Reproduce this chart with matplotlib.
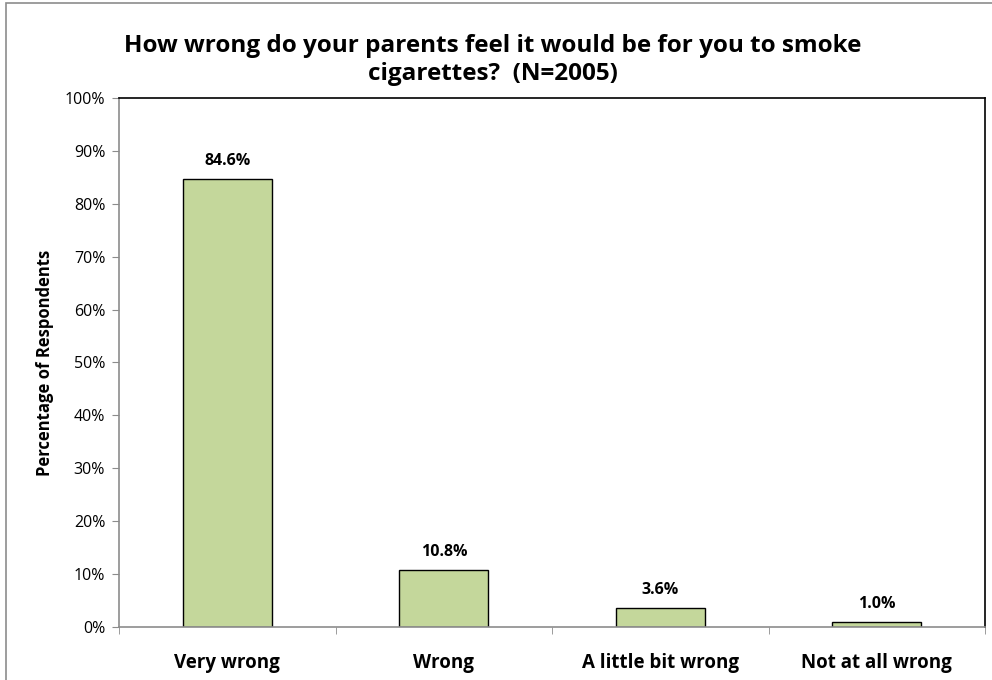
import matplotlib
matplotlib.use('Agg')
import matplotlib.pyplot as plt
from matplotlib.patches import Rectangle
from matplotlib.ticker import PercentFormatter

categories = ['Very wrong', 'Wrong', 'A little bit wrong', 'Not at all wrong']
values = [84.6, 10.8, 3.6, 1.0]
title = 'How wrong do your parents feel it would be for you to smoke\ncigarettes?  (N=2005)'

plt.rcParams['font.family'] = ['Open Sans', 'DejaVu Sans']

fig = plt.figure(figsize=(9.92, 6.8), dpi=100)
ax = fig.add_axes([0.120, 0.078, 0.873, 0.778])

# outer chart border
fig.patches.append(Rectangle((0.006, -0.01), 1.2, 1.0055, transform=fig.transFigure,
                             fill=False, edgecolor='#8c8c8c', linewidth=1.2))

x = range(len(categories))
bars = ax.bar(x, values, width=0.41, color='#c4d79b', edgecolor='black', linewidth=1)
for i, v in enumerate(values):
    ax.text(i, v + 1.9, f'{v:.1f}%', ha='center', va='bottom', fontsize=11.5, fontweight='bold')

ax.set_xlim(-0.5, len(categories) - 0.5)
ax.set_ylim(0, 100)
ax.set_yticks(range(0, 101, 10))
ax.yaxis.set_major_formatter(PercentFormatter(decimals=0))
ax.set_xticks(list(x))
ax.set_xticklabels(categories, fontsize=13.5, fontweight='bold')
ax.set_xticks([i + 0.5 for i in range(-1, len(categories))], minor=True)
ax.tick_params(axis='x', which='major', length=0, pad=19)
ax.tick_params(axis='x', which='minor', length=5, color='#8c8c8c', direction='out')
ax.tick_params(axis='y', length=5, color='#8c8c8c', labelsize=11.5, pad=5)

for side in ['top', 'right']:
    ax.spines[side].set_color('black')
    ax.spines[side].set_linewidth(1.2)
for side in ['left', 'bottom']:
    ax.spines[side].set_color('#8c8c8c')
    ax.spines[side].set_linewidth(1.2)

ax.set_ylabel('Percentage of Respondents', fontsize=12, fontweight='bold', labelpad=8)
fig.text(0.497, 0.912, title, ha='center', va='center', fontsize=17.5,
         fontweight='bold', linespacing=1.2)

fig.savefig('out.png', dpi=100)
